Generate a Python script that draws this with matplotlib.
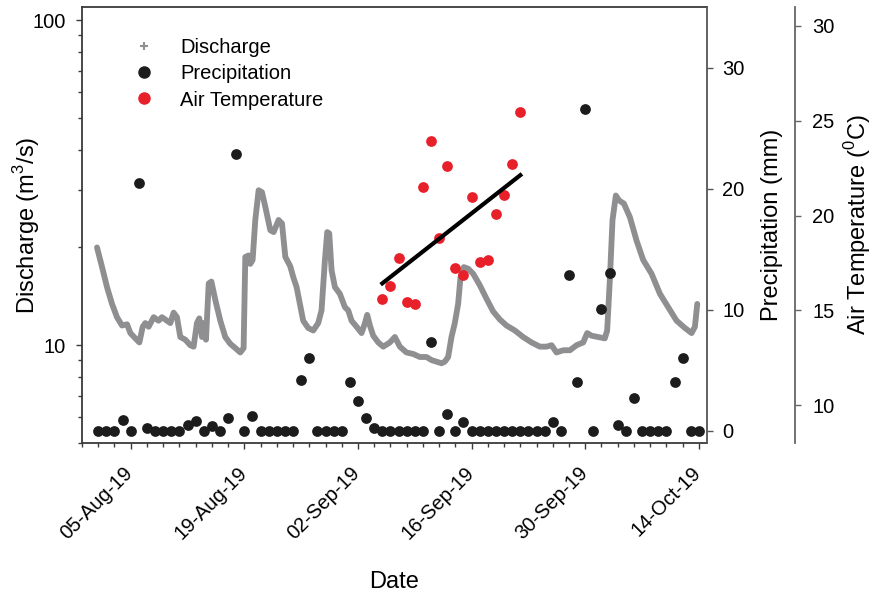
import numpy as np
import pandas as pd
import matplotlib
matplotlib.use('Agg')
import matplotlib.pyplot as plt
import matplotlib.dates as mdates
import matplotlib.transforms as mtransforms
from matplotlib.lines import Line2D
from matplotlib.ticker import FixedLocator, NullFormatter, LogLocator

plt.rcParams['font.family'] = ['Liberation Sans', 'DejaVu Sans']
plt.rcParams['mathtext.fontset'] = 'custom'
plt.rcParams['mathtext.rm'] = 'Liberation Sans'

# ---------------- data ----------------
# Discharge: days since 2019-08-01 00:00 and discharge (m3/s)
discharge_day = [
    -0.15, 0.47, 1.08, 1.70, 2.31, 2.93, 3.55, 3.96, 4.57, 5.07, 5.48, 5.80,
    6.21, 6.83, 7.44, 7.85, 8.47, 8.88, 9.29, 9.70, 10.11, 10.73, 11.34, 11.75,
    12.16, 12.45, 12.78, 12.99, 13.27, 13.61, 13.94, 14.42, 15.04, 15.65, 16.27,
    16.89, 17.50, 17.91, 18.12, 18.53, 18.73, 19.02, 19.35, 19.76, 20.17, 20.58,
    21.20, 21.61, 22.22, 22.64, 23.05, 23.66, 24.03, 24.44, 24.85, 25.25, 25.87,
    26.49, 27.10, 27.51, 27.93, 28.21, 28.46, 28.75, 29.16, 29.77, 30.39, 30.80,
    31.21, 31.83, 32.44, 32.86, 33.14, 33.47, 33.88, 34.50, 35.11, 35.93, 36.55,
    37.16, 37.98, 38.80, 39.62, 40.44, 41.06, 41.67, 42.29, 42.70, 43.11, 43.52,
    43.93, 44.34, 44.63, 45.04, 45.58, 46.19, 47.01, 47.84, 48.66, 49.48, 50.30,
    51.33, 52.35, 53.38, 54.41, 55.23, 55.85, 56.46, 57.29, 58.11, 58.93, 59.75,
    60.24, 60.77, 61.59, 62.41, 62.70, 63.03, 63.36, 63.77, 64.18, 64.76, 65.50,
    66.32, 67.14, 68.17, 69.20, 70.22, 71.25, 72.28, 73.10, 73.51, 73.80,
]
discharge_q = [
    20.0, 17.4, 15.1, 13.4, 12.2, 11.5, 11.6, 10.9, 10.5, 10.2, 11.4, 11.7,
    11.4, 12.2, 11.9, 12.2, 11.9, 11.7, 12.6, 12.2, 10.6, 10.4, 10.0, 9.9,
    11.7, 12.1, 10.6, 11.7, 10.4, 15.5, 15.7, 13.8, 11.9, 10.6, 10.1,
    9.8, 9.5, 9.8, 18.7, 18.9, 17.8, 18.3, 24.3, 30.0, 29.6, 26.7,
    22.6, 22.3, 24.3, 23.7, 18.7, 17.5, 16.2, 15.1, 13.4, 11.9, 11.3,
    11.1, 11.7, 12.8, 18.3, 22.3, 22.1, 17.0, 15.1, 14.4, 13.1, 12.8,
    11.9, 11.4, 10.9, 11.7, 12.4, 11.5, 10.7, 10.2, 9.9, 10.2, 10.6,
    9.9, 9.5, 9.4, 9.2, 9.2, 9.0, 8.9, 8.8, 8.9, 9.2, 10.6,
    11.7, 13.4, 16.2, 17.4, 17.2, 16.6, 15.3, 13.9, 12.7, 12.0, 11.5,
    11.1, 10.6, 10.2, 9.9, 9.9, 10.0, 9.5, 9.65, 9.65, 10.0, 10.2,
    10.9, 10.7, 10.6, 10.5, 11.1, 15.9, 24.3, 28.9, 27.9, 27.3, 24.8,
    21.0, 18.3, 16.6, 14.4, 13.1, 11.9, 11.3, 10.9, 11.4, 13.4,
]

# Precipitation (mm), daily 2019-08-01 .. 2019-10-14
precip_start = '2019-08-01'
precip_end = '2019-10-14'
precip_mm = [
    0, 0, 0, 0.9, 0,
    20.5, 0.25, 0, 0, 0,
    0, 0.45, 0.8, 0, 0.4,
    0, 1.1, 22.9, 0, 1.25,
    0, 0, 0, 0, 0,
    4.2, 6.0, 0, 0, 0, 0,
    4.0, 2.5, 1.1, 0.25, 0,
    0, 0, 0, 0, 0,
    7.3, 0, 1.4, 0, 0.7,
    0, 0, 0, 0, 0,
    0, 0, 0, 0, 0,
    0.75, 0, 12.9, 4.0, 26.6,
    0, 10.1, 13.0, 0.45, 0,
    2.7, 0, 0, 0, 0,
    4.0, 6.0, 0, 0,
]

# Air temperature (deg C), daily 2019-09-05 .. 2019-09-22
temp_start = '2019-09-05'
temp_end = '2019-09-22'
temp_c = [15.6, 16.3, 17.75, 15.45, 15.35, 21.5, 23.95, 18.8, 22.6,
          17.25, 16.85, 21.0, 17.55, 17.65, 20.1, 21.1, 22.7, 25.45]

xtick_dates = ['2019-08-05', '2019-08-19', '2019-09-02', '2019-09-16',
               '2019-09-30', '2019-10-14']

# ---------------- figure ----------------
GRAY = '#8f8f91'
BLACK = '#1c1c1c'
RED = '#e8202a'
SPINE = '#3a3a3a'

fig = plt.figure(figsize=(8.76, 5.95), dpi=100)
ax = fig.add_axes([82/876, 1-443/595, 625/876, 436/595])

t_dis = pd.Timestamp('2019-08-01') + pd.to_timedelta(discharge_day, unit='D')
ax.plot(t_dis, discharge_q, color=GRAY, lw=4.2, solid_joinstyle='round',
        solid_capstyle='round', zorder=2)
ax.set_yscale('log')
ax.set_ylim(5, 110)
ax.set_xlim(pd.Timestamp('2019-07-30'), pd.Timestamp('2019-10-15'))
ax.yaxis.set_major_locator(FixedLocator([10, 100]))
ax.yaxis.set_minor_locator(LogLocator(base=10, subs=np.arange(2, 10)))
ax.yaxis.set_minor_formatter(NullFormatter())
ax.set_yticklabels(['10', '100'])

ax.xaxis.set_major_locator(FixedLocator(mdates.date2num(pd.to_datetime(xtick_dates))))
ax.xaxis.set_minor_locator(FixedLocator(mdates.date2num(
    pd.date_range('2019-07-30', '2019-10-15', freq='2D'))))
ax.xaxis.set_major_formatter(mdates.DateFormatter('%d-%b-%y'))

ax.tick_params(axis='both', which='major', direction='out', length=4.5,
               width=1.0, color=SPINE, labelsize=14.5)
ax.tick_params(axis='both', which='minor', direction='out', length=3,
               width=1.0, color=SPINE)
ax.tick_params(axis='y', which='major', pad=7)
ax.tick_params(axis='x', which='major', pad=10)
for s in ['left', 'bottom', 'top', 'right']:
    ax.spines[s].set_color(SPINE)
    ax.spines[s].set_linewidth(1.3)
ax.spines['right'].set_visible(False)

ax.set_ylabel('Discharge (m$^\\mathregular{3}$/s)', fontsize=17, va='center')
ax.yaxis.set_label_coords(-0.088, 0.5)
ax.set_xlabel('Date', fontsize=17, va='center')
ax.xaxis.set_label_coords(0.5, -0.318)

# precipitation axis
ax2 = ax.twinx()
p_dates = pd.date_range(precip_start, precip_end, freq='D')
ax2.scatter(p_dates, precip_mm, s=60, color=BLACK, zorder=3, linewidths=0)
ax2.set_ylim(-1, 35)
ax2.set_yticks([0, 10, 20, 30])
ax2.tick_params(axis='y', direction='out', length=4.5, width=1.0,
                color='#555555', labelsize=14.5, pad=6.5)
for s in ['left', 'bottom', 'top']:
    ax2.spines[s].set_visible(False)
ax2.spines['right'].set_color('#555555')
ax2.spines['right'].set_linewidth(1.3)
ax2.set_ylabel('Precipitation (mm)', fontsize=17, va='center')
ax2.yaxis.set_label_coords(1.104, 0.5)

# air temperature axis
ax3 = ax.twinx()
ax3.spines['right'].set_position(('axes', 1 + 88/625))
for s in ['left', 'bottom', 'top']:
    ax3.spines[s].set_visible(False)
ax3.spines['right'].set_color('#666666')
ax3.spines['right'].set_linewidth(1.3)
t_dates = pd.date_range(temp_start, temp_end, freq='D')
ax3.scatter(t_dates, temp_c, s=60, color=RED, zorder=3, linewidths=0)
xnum = mdates.date2num(t_dates)
coef = np.polyfit(xnum, temp_c, 1)
ax3.plot(t_dates, np.polyval(coef, xnum), color='black', lw=3, zorder=4)
ax3.set_ylim(8, 31)
ax3.set_yticks([10, 15, 20, 25, 30])
ax3.tick_params(axis='y', direction='out', length=4.5, width=1.0,
                color='#666666', labelsize=14.5, pad=8)
ax3.set_ylabel('Air Temperature ($^\\mathregular{0}$C)', fontsize=17, va='center')
ax3.yaxis.set_label_coords(1.2408, 0.5)
ax3.set_xlim(ax.get_xlim())

handles = [
    Line2D([], [], ls='none', marker='+', ms=6, mew=1.5, color=GRAY),
    Line2D([], [], ls='none', marker='o', ms=8, color=BLACK),
    Line2D([], [], ls='none', marker='o', ms=8, color=RED),
]
fig.legend(handles, ['Discharge', 'Precipitation', 'Air Temperature'],
           loc='upper left', bbox_to_anchor=(134/876, 1-38/595),
           frameon=False, fontsize=14.5, handlelength=1.0,
           handletextpad=1.3, labelspacing=0.36, borderpad=0,
           borderaxespad=0)

# rotated date labels (default rotation mode), nudged slightly right
fig.canvas.draw()
shift = mtransforms.ScaledTranslation(6/100, 0, fig.dpi_scale_trans)
for lab in ax.get_xticklabels():
    lab.set_rotation(45)
    lab.set_ha('right')
    lab.set_va('top')
    lab.set_rotation_mode('default')
    lab.set_transform(lab.get_transform() + shift)

fig.savefig('out.png', dpi=100)
